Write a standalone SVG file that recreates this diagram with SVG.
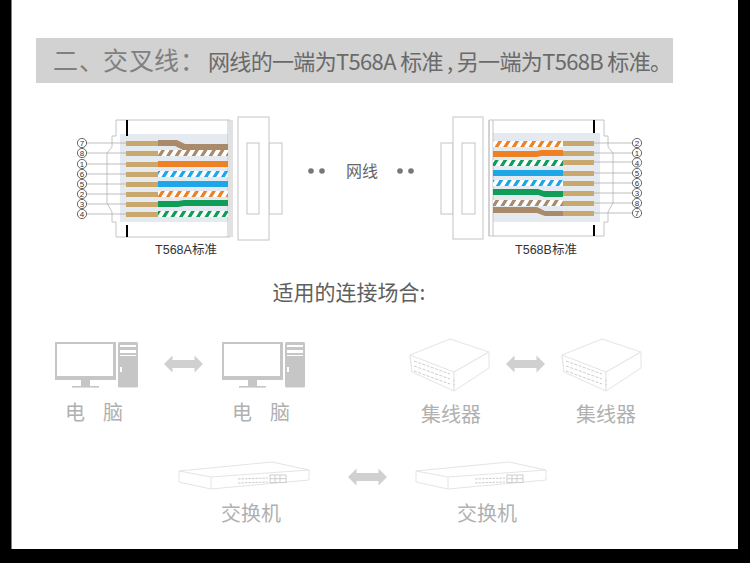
<svg xmlns="http://www.w3.org/2000/svg" width="750" height="563" viewBox="0 0 750 563">
<style>
text{font-family:"Noto Sans CJK SC","Liberation Sans",sans-serif}
.ttl{font-size:22px;fill:#6a6a6a}
.sub{font-family:"Liberation Sans","Noto Sans CJK SC",sans-serif;font-size:12.500px;fill:#333;text-anchor:middle}
.lbl{font-size:20px;fill:#b0b0b0;text-anchor:middle}
.num{font-family:"Liberation Sans",sans-serif;font-size:8px;fill:#333;text-anchor:middle}
.cir{fill:#fff;stroke:#444;stroke-width:.8}
.ol{fill:#fff;stroke:#c4c4c4;stroke-width:1}
.ln{fill:none;stroke:#c4c4c4;stroke-width:1}
.lead{stroke:#a5a5a5;stroke-width:.7}
.panel{fill:#e4eaf0}
.au{fill:#c9a86e}
.mon{fill:#c6c6c6}
.hub{fill:#fff;stroke:#e4e4e4;stroke-width:1;stroke-linejoin:round}
.port{fill:none;stroke:#cdcdcd;stroke-width:1}
.arr{fill:#d0d0d0}
</style>
<defs>
<pattern id="sB" patternUnits="userSpaceOnUse" width="8.5" height="6" patternTransform="skewX(-32)"><rect width="8.5" height="6" fill="#fff"/><rect width="3.800" height="6" fill="#a98a6b"/></pattern>
<pattern id="sO" patternUnits="userSpaceOnUse" width="8.5" height="6" patternTransform="skewX(-32)"><rect width="8.5" height="6" fill="#fff"/><rect width="3.800" height="6" fill="#ef8125"/></pattern>
<pattern id="sU" patternUnits="userSpaceOnUse" width="8.5" height="6" patternTransform="skewX(-32)"><rect width="8.5" height="6" fill="#fff"/><rect width="3.800" height="6" fill="#1ea7e6"/></pattern>
<pattern id="sG" patternUnits="userSpaceOnUse" width="8.5" height="6" patternTransform="skewX(-32)"><rect width="8.5" height="6" fill="#fff"/><rect width="3.800" height="6" fill="#0f9d58"/></pattern>
<g id="pc">
<rect class="mon" x="55" y="342" width="61" height="38"/>
<rect x="57" y="344" width="56" height="32" fill="#fff"/>
<rect class="mon" x="81" y="380" width="9" height="6"/>
<rect class="mon" x="72" y="386" width="27" height="1.600"/>
<rect class="mon" x="118" y="342" width="20" height="45.500" rx="1.500"/>
<rect x="120" y="345" width="16" height="2" fill="#fff"/>
<rect x="120" y="350" width="16" height="3" fill="#fff"/>
<rect x="120" y="355" width="16" height="1" fill="#fff"/>
<rect x="120" y="367" width="2" height="5" fill="#fff"/>
</g>
<g id="hubicon">
<path class="hub" d="M410 355L450 339L489 352L454 372L412 372Z"/>
<path class="hub" d="M410 355L454 372L454 391L412 372Z"/>
<path class="hub" d="M454 372L489 352L489 368L454 391Z"/>
<path class="port" stroke-dasharray="3 1.500" d="M414 361L450 374M414 366L450 379M414 371L450 384"/>
<path class="port" stroke-dasharray="1.500 1.500" d="M453 381L456 380M453 385L456 384"/>
</g>
<g id="sw">
<path class="hub" d="M179 471L272 462L309 470L309 480L211 489L179 482Z"/>
<path class="hub" d="M179 471L211 477L309 470M211 477L211 489"/>
<path class="port" stroke-dasharray="2.500 1" d="M238 479L268 478M238 483L268 482"/>
<rect class="port" x="270" y="475" width="16" height="7.500"/>
<path class="port" d="M275 475V482.500M280 475V482.500M270 478.700H286"/>
</g>
<path id="dbl" class="arr" d="M-19.500 0L-11 -8.500V-4H11V-8.500L19.500 0L11 8.500V4H-11V8.500Z"/>
</defs>

<g id="frame">
<rect width="750" height="563" fill="#fff"/>
<rect x="0" y="0" width="11.500" height="563" fill="#000"/>
<rect x="738" y="0" width="12" height="563" fill="#000"/>
<rect x="0" y="549" width="750" height="14" fill="#000"/>
</g>

<g id="title">
<rect x="36" y="38" width="637" height="45" fill="#d2d2d3"/>
<text x="53 79 103 129 154 180" y="70" style="font-size:25px;fill:#808080">二、交叉线：</text>
<text class="ttl" x="208" y="70" textLength="464" lengthAdjust="spacing">网线的一端为T568A 标准 , 另一端为T568B 标准。</text>
</g>

<g id="connector-a">
<path class="ol" d="M116 120H230V237H116V222H112V212L107 203V153L112 147V136H116Z"/>
<path class="panel" d="M120 134H228V222H120Z"/>
<path stroke="#000" stroke-width="2" d="M127 120V136M127 225V237"/>
<path class="ln" d="M228 120V237M232 120V237"/>
<rect class="ol" x="269" y="143" width="13" height="71"/>
<rect class="ol" x="238" y="117" width="31" height="123"/>
<rect class="ol" x="247" y="143" width="12" height="71"/>
<path fill="#a98a6b" d="M158 140H177L185 144H228V150H183L175 146H158Z"/>
<rect x="158" y="150" width="70" height="6" fill="url(#sB)"/>
<rect x="158" y="161" width="70" height="6" fill="#ef8125"/>
<rect x="158" y="171" width="70" height="6" fill="url(#sU)"/>
<rect x="158" y="181" width="70" height="6" fill="#1ea7e6"/>
<rect x="158" y="191" width="70" height="6" fill="url(#sO)"/>
<path fill="#0f9d58" d="M158 201H178L184 200H228V206H184L178 207H158Z"/>
<rect x="158" y="211" width="70" height="6" fill="url(#sG)"/>
<g class="au">
<rect x="126" y="141" width="32" height="5"/><rect x="126" y="151" width="32" height="5"/><rect x="126" y="162" width="32" height="5"/><rect x="126" y="172" width="32" height="5"/><rect x="126" y="182" width="32" height="5"/><rect x="126" y="192" width="32" height="5"/><rect x="126" y="202" width="32" height="5"/><rect x="126" y="212" width="32" height="5"/>
</g>
<path class="lead" d="M87 143H126M87 153H126M87 164H126M87 174H126M87 184H126M87 194H126M87 204H126M87 214H126"/>
<g class="cir"><circle cx="82" cy="143" r="4.600"/><circle cx="82" cy="153" r="4.600"/><circle cx="82" cy="164" r="4.600"/><circle cx="82" cy="174" r="4.600"/><circle cx="82" cy="184" r="4.600"/><circle cx="82" cy="194" r="4.600"/><circle cx="82" cy="204" r="4.600"/><circle cx="82" cy="214" r="4.600"/></g>
<text class="num" x="82" y="146">7</text><text class="num" x="82" y="156">8</text><text class="num" x="82" y="167">1</text><text class="num" x="82" y="177">6</text><text class="num" x="82" y="187">5</text><text class="num" x="82" y="197">2</text><text class="num" x="82" y="207">3</text><text class="num" x="82" y="217">4</text>
<text class="sub" x="186" y="254">T568A标准</text>
</g>

<g id="cable-label">
<circle cx="311" cy="171" r="2.800" fill="#777"/><circle cx="322" cy="171" r="2.800" fill="#777"/>
<text x="362" y="177" text-anchor="middle" style="font-size:16px;fill:#666">网线</text>
<circle cx="400" cy="171" r="2.800" fill="#777"/><circle cx="411" cy="171" r="2.800" fill="#777"/>
</g>

<g id="connector-b">
<path class="ol" d="M604 120H489V236H604V222H608V212L613 203V153L608 147V136H604Z"/>
<path class="panel" d="M493 133H600V222H493Z"/>
<path stroke="#000" stroke-width="2" d="M594 120V133M594 225V236"/>
<path class="ln" d="M489 120V236M493 120V236"/>
<rect class="ol" x="441" y="143" width="12" height="71"/>
<rect class="ol" x="453" y="117" width="30" height="122"/>
<rect class="ol" x="462" y="143" width="13" height="71"/>
<rect x="493" y="141" width="70" height="6" fill="url(#sO)"/>
<path fill="#ef8125" d="M493 151H537L541 150H563V156H541L537 157H493Z"/>
<rect x="493" y="160" width="70" height="6" fill="url(#sG)"/>
<rect x="493" y="170" width="70" height="6" fill="#1ea7e6"/>
<rect x="493" y="180" width="70" height="6" fill="url(#sU)"/>
<path fill="#0f9d58" d="M493 189H538L544 191H563V197H544L538 195H493Z"/>
<rect x="493" y="200" width="70" height="6" fill="url(#sB)"/>
<path fill="#a98a6b" d="M493 207H537L545 211H563V216H545L537 213H493Z"/>
<g class="au">
<rect x="563" y="141" width="31" height="5"/><rect x="563" y="151" width="31" height="5"/><rect x="563" y="160" width="31" height="5"/><rect x="563" y="171" width="31" height="5"/><rect x="563" y="181" width="31" height="5"/><rect x="563" y="191" width="31" height="5"/><rect x="563" y="201" width="31" height="5"/><rect x="563" y="211" width="31" height="5"/>
</g>
<path class="lead" d="M594 143H632M594 153H632M594 162H632M594 173H632M594 183H632M594 193H632M594 203H632M594 213H632"/>
<g class="cir"><circle cx="637" cy="143" r="4.600"/><circle cx="637" cy="153" r="4.600"/><circle cx="637" cy="162.500" r="4.600"/><circle cx="637" cy="173" r="4.600"/><circle cx="637" cy="183" r="4.600"/><circle cx="637" cy="193" r="4.600"/><circle cx="637" cy="203" r="4.600"/><circle cx="637" cy="213" r="4.600"/></g>
<text class="num" x="637" y="146">2</text><text class="num" x="637" y="156">1</text><text class="num" x="637" y="165.500">4</text><text class="num" x="637" y="176">5</text><text class="num" x="637" y="186">6</text><text class="num" x="637" y="196">3</text><text class="num" x="637" y="206">8</text><text class="num" x="637" y="216">7</text>
<text class="sub" x="546" y="254">T568B标准</text>
</g>

<text x="349" y="300" text-anchor="middle" style="font-size:21px;fill:#5f5f5f">适用的连接场合:</text>

<g id="pc-left"><use href="#pc"/><text class="lbl" x="75" y="420">电</text><text class="lbl" x="113" y="420">脑</text></g>
<g id="pc-right"><use href="#pc" x="167"/><text class="lbl" x="242" y="420">电</text><text class="lbl" x="280" y="420">脑</text></g>
<g id="hub-left"><use href="#hubicon"/><text class="lbl" x="451" y="422">集线器</text></g>
<g id="hub-right"><use href="#hubicon" x="152"/><text class="lbl" x="606" y="422">集线器</text></g>
<g id="switch-left"><use href="#sw"/><text class="lbl" x="251" y="521">交换机</text></g>
<g id="switch-right"><use href="#sw" x="237"/><text class="lbl" x="487" y="521">交换机</text></g>
<g id="connectors">
<use href="#dbl" x="183.500" y="364"/>
<use href="#dbl" x="525.500" y="364"/>
<use href="#dbl" x="367.500" y="477"/>
</g>
</svg>
